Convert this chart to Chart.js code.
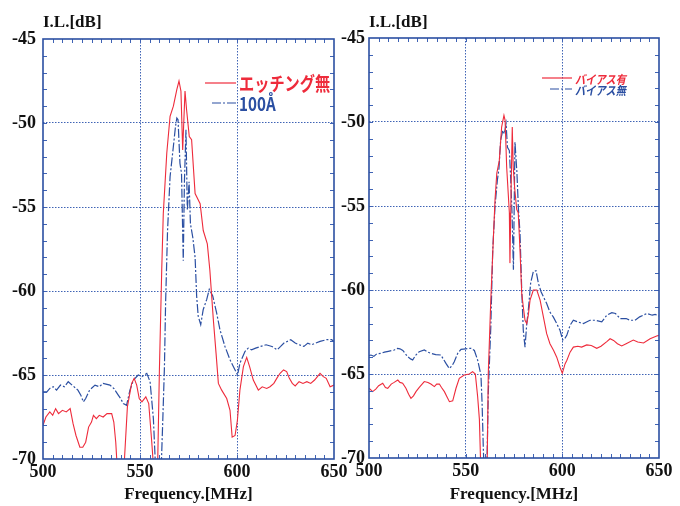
<!DOCTYPE html>
<html>
<head>
<meta charset="utf-8">
<script src="https://cdn.jsdelivr.net/npm/chart.js@4.4.1/dist/chart.umd.min.js"></script>
<style>
  body { margin: 0; background: #fff; }
  #wrap { position: relative; width: 680px; height: 506px; overflow: hidden; background: #fff; }
  #left { position: absolute; left: 0; top: 0; }
  #right { position: absolute; left: 340px; top: 0; }
</style>
</head>
<body>
<div id="wrap">
  <canvas id="left" width="360" height="506"></canvas>
  <canvas id="right" width="340" height="506"></canvas>
</div>
<script>
// ---- data: frequency [MHz] / insertion loss [dB] ----
// values under -70 are below the frame and get clipped
var leftRedFreq = [500,501.5,503.5,505,506.5,508,510,512,514,515.5,517,519,520.5,522,523.5,525,526,527.5,529,531,533,535.4,536.5,537.5,538.5,541.5,542,543.5,545.7,547,548.3,549.6,551,553,554.5,556,557.3,559,560,561.2,562,563.8,565.5,567.2,569,570.1,571.1,572,573.2,574,575.4,576.6,578.4,581,582.6,584.7,586,587.8,589.2,590.4,592.1,594.7,596.4,597.5,599,600.2,601.5,603.3,605,606.5,608.4,611,613,615.3,617,619,620.5,622.2,624,625.6,627,628.5,630,632,634,636,638,640,642.8,644.5,646,648,650];
var leftRedIL = [-68.0,-67.5,-67.2,-67.4,-67.0,-67.3,-67.1,-67.2,-67.0,-67.9,-68.6,-69.3,-69.3,-69.0,-68.1,-67.8,-67.4,-67.6,-67.4,-67.5,-67.3,-67.3,-67.8,-69.0,-71,-71,-70,-66.9,-65.5,-65.2,-65.6,-66.4,-66.6,-66.3,-66.7,-68.9,-71,-71,-64.7,-58.75,-55.4,-51.8,-49.6,-49.0,-48.0,-47.5,-48.1,-51.6,-48.1,-49.2,-50.8,-51.0,-54.2,-54.8,-56.4,-57.2,-58.75,-61.7,-63.7,-65.5,-65.9,-66.4,-67.1,-68.7,-68.6,-67.7,-65.9,-64.5,-63.95,-64.5,-65.3,-65.9,-65.7,-65.8,-65.7,-65.5,-65.2,-64.9,-64.7,-64.8,-65.2,-65.5,-65.65,-65.4,-65.5,-65.4,-65.5,-65.3,-64.9,-65.1,-65.2,-65.7,-65.6];

var leftBlueFreq = [500,502,503.5,505.3,507,509,511,513,515,518,519.5,520.8,522,524,526.8,529,531,534.5,536.5,538.8,540,541.4,543.1,544.8,546.6,549.1,551,553.5,555.2,556.9,558.2,560.8,561.8,562.6,563.2,564.2,565.5,567.2,568.3,569,569.6,570.6,571.4,572.3,572.9,573.7,574.4,575.3,576,577.2,578.4,579.2,580,581.3,582.6,584.4,585.7,587.5,589.5,591.2,593.8,596.4,599,600.3,601.5,604.1,605.8,607.5,609.6,612.2,615,618,620.7,622.5,624.2,627.7,630,632,634.5,636.5,638.5,640.5,642.8,646.2,648.8,650];
var leftBlueIL = [-66.0,-66.0,-65.8,-65.7,-65.9,-65.6,-65.7,-65.4,-65.6,-65.9,-66.2,-66.6,-66.4,-65.9,-65.6,-65.7,-65.5,-65.6,-65.8,-66.2,-66.4,-66.7,-66.8,-65.9,-65.3,-65.0,-65.1,-64.9,-65.4,-67.6,-71,-71,-67.5,-64.5,-60.7,-56.4,-53.2,-51.4,-50.2,-49.7,-49.8,-52.4,-53.0,-58.2,-53.5,-50.4,-55.2,-53.5,-56.0,-56.8,-58.0,-60.3,-61.5,-62.0,-61.1,-60.5,-59.9,-60.3,-61.3,-62.3,-63.3,-64.1,-64.7,-65.0,-64.3,-63.6,-63.4,-63.5,-63.4,-63.3,-63.2,-63.3,-63.5,-63.3,-63.1,-62.9,-63.1,-63.2,-63.3,-63.1,-63.2,-63.1,-63.0,-62.9,-62.9,-63.0];

var rightRedFreq = [500,501.9,503.5,505,507.1,508.5,509.7,511.5,513,514.9,516,517.4,519.1,520.5,521.7,523,524.3,526,528.6,530.5,532,533.8,535,536.4,537.5,539,540.5,541.6,543.3,545,546.7,549.3,551.9,553.6,555,556.2,557.1,557.9,560.9,561.2,561.7,563,564.3,565.2,566.1,567.4,568.6,569.8,570.4,571.2,572.6,572.9,573.5,574.1,574.6,575.4,576.4,577.2,578.1,579,579.8,580.7,581.6,582.4,583.3,585,586.8,588.5,590.2,591.9,593.6,595.5,597.1,598.8,600,601.4,602.3,604,605.7,608,610,612.6,615,617.8,620,623,624.7,626.5,628.5,630.7,633,636.7,639,642,645.4,648.8,650];
var rightRedIL = [-65.85,-66.05,-65.9,-65.7,-65.55,-65.8,-65.85,-65.6,-65.5,-65.36,-65.5,-65.55,-65.85,-66.2,-66.45,-66.3,-66.05,-65.8,-65.45,-65.5,-65.6,-65.75,-65.6,-65.6,-65.8,-66.05,-66.4,-66.65,-66.6,-65.85,-65.26,-65.06,-65.0,-64.86,-65.0,-66.35,-67.7,-71,-71,-69.7,-64.96,-60.6,-57.0,-54.6,-53.05,-52.3,-50.3,-49.6,-49.9,-52.66,-55.4,-58.4,-54.0,-50.3,-52.7,-54.0,-55.2,-55.4,-57.6,-60.2,-61.0,-61.8,-62.0,-61.5,-60.6,-60.0,-60.0,-60.6,-61.6,-62.6,-63.2,-63.6,-64.0,-64.6,-64.96,-64.4,-64.2,-63.7,-63.4,-63.35,-63.4,-63.27,-63.3,-63.47,-63.35,-63.07,-62.9,-63.0,-63.2,-63.33,-63.2,-62.98,-63.1,-63.15,-62.9,-62.74,-62.7];

var rightBlueFreq = [500,501,502.5,504,506.2,508,510,513.1,514.8,516,517.5,520,521.5,522.6,524,526,528.6,530.5,532.1,534.5,537.2,539.8,541.5,543,544.1,545.9,547.6,550,552.8,554.5,556.2,557.9,558.5,559.1,559.6,560.9,561.7,563,564,565.2,566.4,567.2,568.1,569.2,570,570.9,571.6,572.6,573.3,574,574.7,575.5,576.5,577.3,578.1,579,579.8,580.7,581.6,582.4,583.6,585,586.4,587.6,589,590.2,591.9,593.5,595.3,597.1,598.8,600.2,601.2,602.3,604,605.7,608,610.9,612.5,614.3,617,620.4,623,625.6,627.5,629.9,633,635,637.6,640,643.7,646.5,648,650];
var rightBlueIL = [-63.9,-63.87,-63.95,-63.8,-63.77,-63.7,-63.65,-63.57,-63.47,-63.5,-63.6,-63.97,-64.1,-64.17,-63.9,-63.67,-63.57,-63.7,-63.77,-63.85,-63.87,-64.37,-64.67,-64.5,-64.27,-63.77,-63.53,-63.5,-63.47,-63.6,-64.17,-65.06,-66.75,-69.3,-71,-71,-66.1,-62.2,-57.6,-55.0,-53.45,-52.8,-51.07,-50.5,-50.7,-50.1,-51.5,-51.7,-53.4,-55.5,-58.8,-51.2,-53.0,-55.2,-56.6,-60.0,-62.4,-63.4,-62.0,-61.2,-59.6,-58.9,-58.85,-59.6,-60.1,-60.4,-60.8,-61.3,-61.6,-62.0,-62.4,-62.98,-62.9,-62.7,-62.1,-61.8,-61.9,-62.0,-61.9,-61.8,-61.8,-61.9,-61.5,-61.35,-61.4,-61.7,-61.7,-61.8,-61.8,-61.6,-61.4,-61.5,-61.45,-61.55];

var leftLabels = ['エッチング無', '100Å'];
var rightLabels = ['バイアス有', 'バイアス無'];
var xTicks = [500, 550, 600, 650];
var yTicks = [-70, -65, -60, -55, -50, -45];

var RED = '#ee2b3b';
var BLUE = '#2b4fa2';
var GRID = '#3f63b5';
var SERIF = "'Liberation Serif', 'Times New Roman', serif";

function pts(fx, fy) {
    return fx.map(function (f, i) { return { x: f, y: fy[i] }; });
}

// frame, inner minor ticks
var framePlugin = {
    id: 'frame',
    afterDatasetsDraw: function (chart) {
        var ctx = chart.ctx, a = chart.chartArea;
        var x = chart.scales.x, y = chart.scales.y;
        ctx.save();
        ctx.strokeStyle = GRID;
        ctx.lineWidth = 1;
        ctx.beginPath();
        for (var f = xTicks[0] + 5; f < xTicks[xTicks.length - 1]; f += 5) {
            var px = Math.round(x.getPixelForValue(f)) + 0.5;
            ctx.moveTo(px, a.bottom); ctx.lineTo(px, a.bottom - 4);
            ctx.moveTo(px, a.top); ctx.lineTo(px, a.top + 4);
        }
        for (var v = yTicks[0] + 1; v < yTicks[yTicks.length - 1]; v += 1) {
            var py = Math.round(y.getPixelForValue(v)) + 0.5;
            ctx.moveTo(a.left, py); ctx.lineTo(a.left + 4, py);
            ctx.moveTo(a.right, py); ctx.lineTo(a.right - 4, py);
        }
        ctx.stroke();
        ctx.strokeStyle = BLUE;
        ctx.lineWidth = 1.6;
        ctx.strokeRect(a.left, a.top, a.right - a.left, a.bottom - a.top);
        ctx.restore();
    }
};

// legend drawn inside the plot, text squeezed like in the scan
var innerLegend = {
    id: 'innerLegend',
    afterDraw: function (chart, args, opts) {
        var ctx = chart.ctx;
        ctx.save();
        chart.data.datasets.forEach(function (ds, i) {
            var y = opts.y[i];
            ctx.strokeStyle = ds.borderColor;
            ctx.lineWidth = 1.2;
            ctx.setLineDash(ds.borderDash || []);
            ctx.beginPath();
            ctx.moveTo(opts.lineFrom[i], y);
            ctx.lineTo(opts.lineTo, y);
            ctx.stroke();
            ctx.setLineDash([]);
            ctx.save();
            ctx.translate(opts.textX, y);
            ctx.scale(opts.squeeze, 1);
            ctx.fillStyle = ds.borderColor;
            ctx.font = opts.font;
            ctx.textBaseline = 'middle';
            ctx.fillText(ds.label, 0, 1);
            ctx.restore();
        });
        ctx.restore();
    }
};

function makeChart(id, red, blue, labels, lay) {
    var ctx = document.getElementById(id).getContext('2d');
    return new Chart(ctx, {
        type: 'line',
        data: {
            datasets: [{
                label: labels[0],
                data: red,
                borderColor: RED,
                borderWidth: 1.1,
                pointRadius: 0,
                tension: 0
            }, {
                label: labels[1],
                data: blue,
                borderColor: BLUE,
                borderWidth: 1.2,
                borderDash: [9, 2, 2, 2],
                pointRadius: 0,
                tension: 0
            }]
        },
        options: {
            responsive: false,
            animation: false,
            devicePixelRatio: 1,
            layout: { padding: { left: 0, right: lay.padRight, top: 0, bottom: 0 } },
            plugins: {
                legend: { display: false },
                tooltip: { enabled: false },
                title: {
                    display: true,
                    text: 'I.L.[dB]',
                    align: 'start',
                    fullSize: false,
                    color: '#111',
                    font: { family: SERIF, size: 17, weight: 'bold', lineHeight: 1 },
                    padding: { top: 14, bottom: lay.top - 31 }
                },
                innerLegend: lay.legend
            },
            scales: {
                x: {
                    type: 'linear',
                    min: xTicks[0],
                    max: xTicks[xTicks.length - 1],
                    afterBuildTicks: function (s) { s.ticks = xTicks.map(function (v) { return { value: v }; }); },
                    afterFit: function (s) { s.height = 506 - lay.bottom; s.paddingLeft = 0; s.paddingRight = 0; },
                    ticks: { color: '#111', padding: 3, maxRotation: 0, font: { family: SERIF, size: 18, weight: 'bold' } },
                    grid: {
                        drawTicks: false,
                        lineWidth: 1,
                        color: function (c) { return (c.tick && (c.tick.value === xTicks[0] || c.tick.value === xTicks[xTicks.length - 1])) ? 'rgba(0,0,0,0)' : GRID; }
                    },
                    border: { display: false, dash: [1.5, 1.5] },
                    title: {
                        display: true,
                        text: 'Frequency.[MHz]',
                        color: '#111',
                        font: { family: SERIF, size: 17, weight: 'bold', lineHeight: 1.2 },
                        padding: { top: 0, bottom: 1 }
                    }
                },
                y: {
                    min: yTicks[0],
                    max: yTicks[yTicks.length - 1],
                    afterBuildTicks: function (s) { s.ticks = yTicks.map(function (v) { return { value: v }; }); },
                    afterFit: function (s) { s.width = lay.left; s.paddingTop = 0; s.paddingBottom = 0; },
                    ticks: { color: '#111', padding: lay.labelPad, font: { family: SERIF, size: 18, weight: 'bold' } },
                    grid: {
                        drawTicks: false,
                        lineWidth: 1,
                        color: function (c) { return (c.tick && (c.tick.value === yTicks[0] || c.tick.value === yTicks[yTicks.length - 1])) ? 'rgba(0,0,0,0)' : GRID; }
                    },
                    border: { display: false, dash: [1.5, 1.5] }
                }
            }
        },
        plugins: [framePlugin, innerLegend]
    });
}

makeChart('left', pts(leftRedFreq, leftRedIL), pts(leftBlueFreq, leftBlueIL), leftLabels, {
    left: 43, padRight: 26, top: 39, bottom: 459, labelPad: 7,
    legend: {
        y: [83, 103], lineFrom: [205, 212], lineTo: 236, textX: 239, squeeze: 0.8,
        font: "bold 19px 'Noto Sans CJK JP', 'Noto Sans', sans-serif"
    }
});

makeChart('right', pts(rightRedFreq, rightRedIL), pts(rightBlueFreq, rightBlueIL), rightLabels, {
    left: 29, padRight: 21, top: 38, bottom: 458, labelPad: 4,
    legend: {
        y: [78, 89], lineFrom: [202, 210], lineTo: 232, textX: 235, squeeze: 0.85,
        font: "italic bold 12px 'Noto Sans CJK JP', 'Noto Sans', sans-serif"
    }
});
</script>
</body>
</html>
